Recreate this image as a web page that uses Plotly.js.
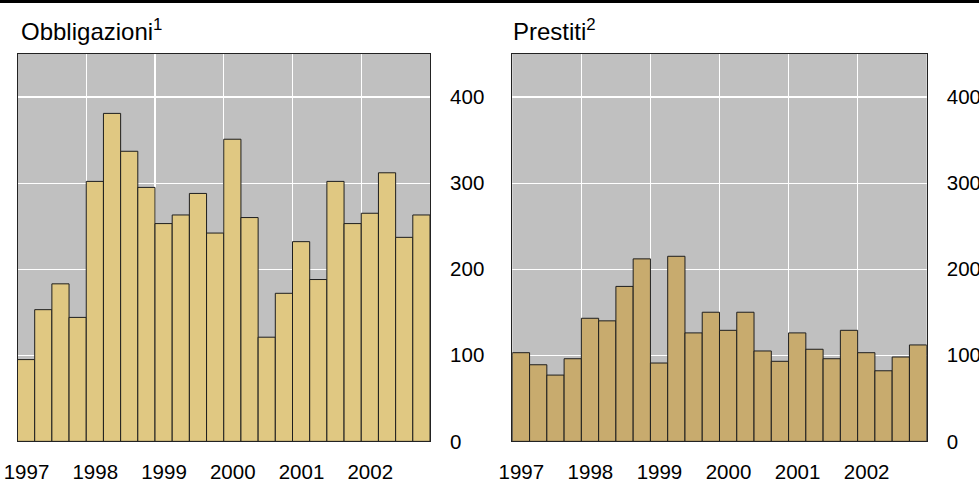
<!DOCTYPE html>
<html>
<head>
<meta charset="utf-8">
<script src="https://cdn.plot.ly/plotly-3.0.1.min.js"></script>
<style>html,body{margin:0;padding:0;background:#fff;}#chart{width:979px;height:480px;}</style>
</head>
<body>
<div id="chart"></div>
<script>
// Quarterly data, 1997 Q1 - 2002 Q4
const years = [1997, 1998, 1999, 2000, 2001, 2002];
const quartersPerYear = 4;
const obbligazioni = [95, 153, 183, 144, 302, 381, 337, 295, 253, 263, 288, 242,
                      351, 260, 121, 172, 232, 188, 302, 253, 265, 312, 237, 263];
const prestiti = [103, 89, 77, 96, 143, 140, 180, 212, 91, 215, 126, 150,
                  129, 150, 105, 93, 126, 107, 96, 129, 103, 82, 98, 112];
const yTicks = [0, 100, 200, 300, 400];
const titles = ['Obbligazioni<sup>1</sup>', 'Prestiti<sup>2</sup>'];

// x position of each quarter (middle of the quarter on a year axis)
const xq = [];
years.forEach(y => { for (let q = 0; q < quartersPerYear; q++) xq.push(y + (q + 0.5) / quartersPerYear); });

const font = {family: 'Liberation Sans, Arial, sans-serif', size: 20.5, color: '#000'};
const titleFont = {family: 'Liberation Sans, Arial, sans-serif', size: 24, color: '#000'};

const traces = [
  {type: 'bar', x: xq, y: obbligazioni, width: 1 / quartersPerYear, xaxis: 'x', yaxis: 'y',
   marker: {color: '#E0C882', line: {color: '#1e1e1e', width: 1}}, hoverinfo: 'x+y'},
  {type: 'bar', x: xq, y: prestiti, width: 1 / quartersPerYear, xaxis: 'x2', yaxis: 'y2',
   marker: {color: '#C8AB6E', line: {color: '#1e1e1e', width: 1}}, hoverinfo: 'x+y'}
];

function xax(domain, anchor) {
  return {
    domain: domain, anchor: anchor, range: [years[0], years[years.length - 1] + 1],
    tickvals: years, ticktext: years.map(String), showgrid: true, gridcolor: '#ffffff', gridwidth: 1.2,
    showline: true, linecolor: '#222', linewidth: 1, mirror: true, zeroline: false,
    ticks: '', ticklabelshift: 9, ticklabelstandoff: 12, tickfont: font, fixedrange: true
  };
}
function yax(anchor) {
  return {
    domain: [0.0805, 0.8875], anchor: anchor, range: [0, 450], side: 'right',
    tickvals: yTicks, showgrid: true, gridcolor: '#ffffff', gridwidth: 1.2,
    showline: true, linecolor: '#222', linewidth: 1, mirror: true, zeroline: false,
    ticks: '', ticklabelstandoff: 15, tickfont: font, fixedrange: true
  };
}

const layout = {
  width: 979, height: 480,
  margin: {l: 0, r: 0, t: 0, b: 0},
  paper_bgcolor: '#ffffff', plot_bgcolor: '#C0C0C0',
  showlegend: false, bargap: 0,
  xaxis: xax([17.5 / 979, 430 / 979], 'y'),
  yaxis: yax('x'),
  xaxis2: xax([512.3 / 979, 926.7 / 979], 'y2'),
  yaxis2: yax('x2'),
  shapes: [{type: 'line', xref: 'paper', yref: 'paper', x0: 0, x1: 1, y0: 1 - 1.5 / 480, y1: 1 - 1.5 / 480,
            line: {color: '#000', width: 3}}],
  annotations: [
    {text: titles[0], xref: 'paper', yref: 'paper', x: 19 / 979, y: 1 - 30 / 480, xanchor: 'left', yanchor: 'middle',
     showarrow: false, font: titleFont},
    {text: titles[1], xref: 'paper', yref: 'paper', x: 511 / 979, y: 1 - 30 / 480, xanchor: 'left', yanchor: 'middle',
     showarrow: false, font: titleFont}
  ]
};

Plotly.newPlot('chart', traces, layout, {displayModeBar: false, staticPlot: true});
</script>
</body>
</html>
